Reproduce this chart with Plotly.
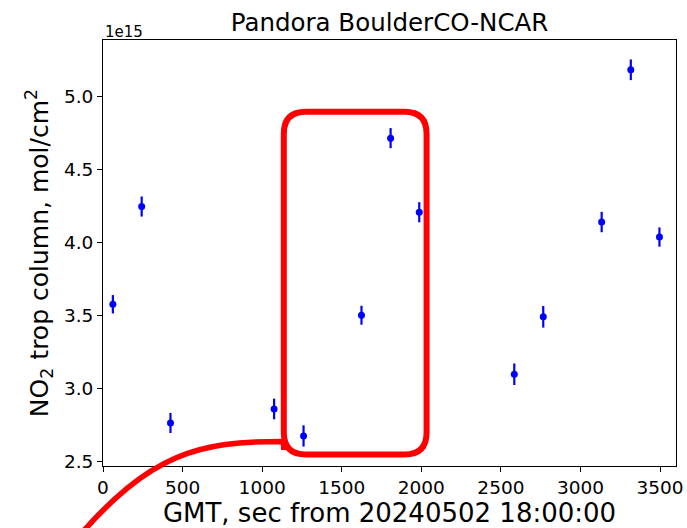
import plotly.graph_objects as go

# ---- data (NO2 column in units of 1e15 molecules/cm^2) ----
time_sec = [62, 243, 424, 1075, 1260, 1624, 1807, 1987, 2584, 2766, 3133, 3316, 3496]
no2_e15 = [3.575, 4.245, 2.761, 2.857, 2.672, 3.500, 4.714, 4.206, 3.095, 3.489, 4.139, 5.183, 4.036]
no2_err_e15 = [0.063, 0.069, 0.069, 0.071, 0.073, 0.065, 0.069, 0.069, 0.074, 0.074, 0.070, 0.071, 0.066]
x_ticks = [0, 500, 1000, 1500, 2000, 2500, 3000, 3500]
y_ticks = [2.5, 3.0, 3.5, 4.0, 4.5, 5.0]

# highlight box (data units)
box_x = [1136, 2033]
box_y = [2.544, 4.895]

W, H = 687, 528
ML, MR, MT, MB = 103, 11, 40, 62
PW, PH = W - ML - MR, H - MT - MB
XR = [0, 3600]
YR = [2.466, 5.387]

def xp(v):
    return (v - XR[0]) / (XR[1] - XR[0])

def yp(v):
    return (v - YR[0]) / (YR[1] - YR[0])

def px(p):  # pixel -> paper x
    return (p - ML) / PW

def py(p):  # pixel -> paper y
    return (H - MB - p) / PH

fig = go.Figure()
fig.add_trace(go.Scatter(
    x=time_sec, y=no2_e15, mode="markers",
    marker=dict(color="#0000ff", size=7),
    error_y=dict(type="data", array=no2_err_e15, visible=True,
                 color="#0000ff", thickness=2.2, width=0),
    showlegend=False,
))

# rounded rectangle in paper coords
rx, ry = 22 / PW, 22 / PH
x0, x1 = xp(box_x[0]), xp(box_x[1])
y0, y1 = yp(box_y[0]), yp(box_y[1])
rect_path = (
    f"M {x0+rx},{y1} L {x1-rx},{y1} Q {x1},{y1} {x1},{y1-ry} "
    f"L {x1},{y0+ry} Q {x1},{y0} {x1-rx},{y0} "
    f"L {x0+rx},{y0} Q {x0},{y0} {x0},{y0+ry} "
    f"L {x0},{y1-ry} Q {x0},{y1} {x0+rx},{y1} Z"
)
fig.add_shape(type="path", path=rect_path, xref="paper", yref="paper",
              line=dict(color="#ff0000", width=6), layer="above")

# curved connector leading into the box
jy = py(441.5)
curve_path = (
    f"M {px(74)},{py(542)} C {px(150)},{py(452)} {px(200)},{jy} {x0 - 0.004},{jy} "
    f"Q {x0},{jy} {x0},{jy - 0.02}"
)
fig.add_shape(type="path", path=curve_path, xref="paper", yref="paper",
              line=dict(color="#ff0000", width=5.5), layer="above")

fig.add_annotation(text="1e15", xref="paper", yref="paper", x=0, y=1,
                   xanchor="left", yanchor="bottom", yshift=-3, showarrow=False,
                   font=dict(size=15, color="black", family="DejaVu Sans"))

fig.update_layout(
    width=W, height=H,
    margin=dict(l=ML, r=MR, t=MT, b=MB, pad=0, autoexpand=False),
    paper_bgcolor="white", plot_bgcolor="white",
    font=dict(family="DejaVu Sans", color="black"),
    title=dict(text="Pandora BoulderCO-NCAR", x=(ML + PW / 2) / W, xanchor="center",
               y=1 - 22 / H, yanchor="middle", font=dict(size=24.5), automargin=False),
    xaxis=dict(range=XR, tickvals=x_ticks, ticks="outside", ticklen=5, tickwidth=1,
               tickcolor="black", showline=True, linecolor="black", linewidth=1,
               mirror=True, showgrid=False, zeroline=False, automargin=False,
               tickfont=dict(size=18.5),
               title=dict(text="GMT, sec from 20240502 18:00:00", font=dict(size=26), standoff=4)),
    yaxis=dict(range=YR, tickvals=y_ticks, tickformat=".1f", ticks="outside", ticklen=5,
               tickwidth=1, tickcolor="black", showline=True, linecolor="black",
               linewidth=1, mirror=True, showgrid=False, zeroline=False, automargin=False,
               tickfont=dict(size=18.5),
               title=dict(text="NO<sub>2</sub> trop column, mol/cm<sup>2</sup>",
                          font=dict(size=25), standoff=8)),
)

fig.write_html("out.html")
